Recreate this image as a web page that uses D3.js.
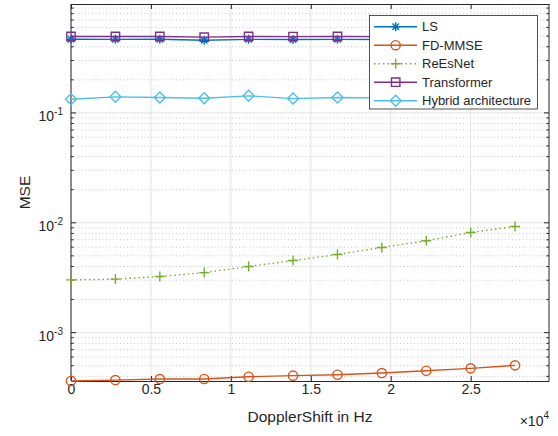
<!DOCTYPE html>
<html>
<head>
<meta charset="utf-8">
<script src="https://cdn.jsdelivr.net/npm/d3@7"></script>
<style>
  body { margin: 0; background: #ffffff; }
  text { font-family: "Liberation Sans", Arial, sans-serif; fill: #262626; }
</style>
</head>
<body>
<div id="chart"></div>
<script>
let width = 558;
let height = 436;
let margin = { left: 71, right: 9, top: 4, bottom: 55 };

// values
let dopplerShift = [0, 2778, 5556, 8333, 11111, 13889, 16667, 19444, 22222, 25000, 27778];
let lsMse = [0.468, 0.467, 0.468, 0.459, 0.467, 0.466, 0.467, 0.466, 0.466, 0.467, 0.466];
let fdMmseMse = [3.63e-4, 3.70e-4, 3.78e-4, 3.79e-4, 3.97e-4, 4.06e-4, 4.14e-4, 4.29e-4, 4.50e-4, 4.73e-4, 5.04e-4];
let reEsNetMse = [3.02e-3, 3.07e-3, 3.24e-3, 3.52e-3, 4.00e-3, 4.53e-3, 5.14e-3, 5.96e-3, 6.86e-3, 8.16e-3, 9.25e-3];
let transformerMse = [0.496, 0.496, 0.496, 0.489, 0.496, 0.495, 0.496, 0.495, 0.495, 0.496, 0.495];
let hybridMse = [0.133, 0.140, 0.138, 0.136, 0.143, 0.135, 0.138, 0.137, 0.137, 0.138, 0.136];

let xTicks = [0, 5000, 10000, 15000, 20000, 25000];
let xTickLabels = ["0", "0.5", "1", "1.5", "2", "2.5"];
let yTicks = [1e-3, 1e-2, 1e-1];
let yTickExponents = ["-3", "-2", "-1"];

let series = [
  { name: "LS", values: lsMse, color: "#0072BD", marker: "star", dash: null },
  { name: "FD-MMSE", values: fdMmseMse, color: "#D95319", marker: "circle", dash: null },
  { name: "ReEsNet", values: reEsNetMse, color: "#77AC30", marker: "plus", dash: "1.5,3" },
  { name: "Transformer", values: transformerMse, color: "#7E2F8E", marker: "square", dash: null },
  { name: "Hybrid architecture", values: hybridMse, color: "#4DBEEE", marker: "diamond", dash: null }
];

let svg = d3.select("#chart")
  .append("svg")
  .attr("width", width)
  .attr("height", height);

let x = d3.scaleLinear()
  .domain([0, 29900])
  .range([margin.left, width - margin.right]);
let y = d3.scaleLog()
  .domain([3.63e-4, 0.98])
  .range([height - margin.bottom, margin.top]);

let x0 = x.range()[0], x1 = x.range()[1];
let y0 = y.range()[0], y1 = y.range()[1];

// minor log ticks between decades
let minorTicks = [];
[1e-4, 1e-3, 1e-2, 1e-1].forEach(dec => {
  for (let k = 2; k <= 9; k++) {
    let v = dec * k;
    if (v > y.domain()[0] && v < y.domain()[1]) minorTicks.push(v);
  }
});

// grid
let grid = svg.append("g").attr("id", "grid");
grid.selectAll(".ymin")
  .data(minorTicks)
  .enter()
  .append("line")
  .attr("x1", x0).attr("x2", x1)
  .attr("y1", d => y(d)).attr("y2", d => y(d))
  .attr("stroke", "#b8b8b8")
  .attr("stroke-width", 0.8)
  .attr("stroke-dasharray", "1,2.5");
grid.selectAll(".ymaj")
  .data(yTicks)
  .enter()
  .append("line")
  .attr("x1", x0).attr("x2", x1)
  .attr("y1", d => y(d)).attr("y2", d => y(d))
  .attr("stroke", "#e1e1e1")
  .attr("stroke-width", 1);
grid.selectAll(".xmaj")
  .data(xTicks)
  .enter()
  .append("line")
  .attr("x1", d => x(d)).attr("x2", d => x(d))
  .attr("y1", y0).attr("y2", y1)
  .attr("stroke", "#e1e1e1")
  .attr("stroke-width", 1);

// axes with inward ticks on all four sides
svg.append("g")
  .attr("transform", `translate(0, ${y0})`)
  .call(d3.axisBottom(x).tickValues(xTicks).tickSizeInner(-5).tickSizeOuter(0).tickFormat((d, i) => xTickLabels[i]))
  .call(g => g.select(".domain").attr("stroke", "#262626"))
  .call(g => g.selectAll(".tick line").attr("stroke", "#262626"))
  .call(g => g.selectAll(".tick text").attr("font-size", 14).attr("font-family", "Liberation Sans, Arial, sans-serif").attr("fill", "#262626"));

svg.append("g")
  .attr("transform", `translate(0, ${y1})`)
  .call(d3.axisTop(x).tickValues(xTicks).tickSizeInner(-5).tickSizeOuter(0).tickFormat(""))
  .call(g => g.select(".domain").attr("stroke", "#262626"))
  .call(g => g.selectAll(".tick line").attr("stroke", "#262626"));

[[x0, 1], [x1, -1]].forEach(([xp, dir]) => {
  let side = svg.append("g");
  side.append("line")
    .attr("x1", xp).attr("x2", xp).attr("y1", y0).attr("y2", y1)
    .attr("stroke", "#262626");
  side.selectAll(".maj")
    .data(yTicks)
    .enter()
    .append("line")
    .attr("x1", xp).attr("x2", xp + dir * 5)
    .attr("y1", d => y(d)).attr("y2", d => y(d))
    .attr("stroke", "#262626");
  side.selectAll(".min")
    .data(minorTicks)
    .enter()
    .append("line")
    .attr("x1", xp).attr("x2", xp + dir * 2.7)
    .attr("y1", d => y(d)).attr("y2", d => y(d))
    .attr("stroke", "#262626");
});

// y tick labels 10^n
let ylab = svg.append("g").selectAll("text")
  .data(yTicks)
  .enter()
  .append("text")
  .attr("x", 63)
  .attr("y", d => y(d) + 8)
  .attr("text-anchor", "end")
  .attr("font-size", 14);
ylab.append("tspan").text("10");
ylab.append("tspan")
  .attr("font-size", 10)
  .attr("dy", -6)
  .text((d, i) => yTickExponents[i]);

// axis labels
svg.append("text")
  .attr("x", (x0 + x1) / 2)
  .attr("y", 422)
  .attr("text-anchor", "middle")
  .attr("font-size", 15.5)
  .text("DopplerShift in Hz");

svg.append("text")
  .attr("transform", `translate(30, ${(y0 + y1) / 2}) rotate(-90)`)
  .attr("text-anchor", "middle")
  .attr("font-size", 15.5)
  .text("MSE");

let xexp = svg.append("text")
  .attr("x", 549)
  .attr("y", 426)
  .attr("text-anchor", "end")
  .attr("font-size", 14);
xexp.append("tspan").text("\u00d710");
xexp.append("tspan").attr("font-size", 10).attr("dy", -7).text("4");

// markers
function markerPath(type) {
  let p = d3.path();
  if (type === "star") {
    let r = 4.5, d = r * 0.72;
    p.moveTo(-r, 0); p.lineTo(r, 0);
    p.moveTo(0, -r); p.lineTo(0, r);
    p.moveTo(-d, -d); p.lineTo(d, d);
    p.moveTo(-d, d); p.lineTo(d, -d);
  } else if (type === "circle") {
    p.arc(0, 0, 4.6, 0, 2 * Math.PI);
    p.closePath();
  } else if (type === "plus") {
    let r = 5;
    p.moveTo(-r, 0); p.lineTo(r, 0);
    p.moveTo(0, -r); p.lineTo(0, r);
  } else if (type === "square") {
    p.rect(-4.2, -4.2, 8.4, 8.4);
  } else if (type === "diamond") {
    p.moveTo(0, -5.5); p.lineTo(5.5, 0); p.lineTo(0, 5.5); p.lineTo(-5.5, 0);
    p.closePath();
  }
  return p.toString();
}

let line = d3.line()
  .x((d, i) => x(dopplerShift[i]))
  .y(d => y(d));

let plots = svg.append("g").attr("id", "plots");
series.forEach(s => {
  let g = plots.append("g");
  g.append("path")
    .attr("d", line(s.values))
    .attr("fill", "none")
    .attr("stroke", s.color)
    .attr("stroke-width", 1.4)
    .attr("stroke-dasharray", s.dash);
  g.selectAll("path.mk")
    .data(s.values)
    .enter()
    .append("path")
    .attr("class", "mk")
    .attr("transform", (d, i) => `translate(${x(dopplerShift[i])}, ${y(d)})`)
    .attr("d", markerPath(s.marker))
    .attr("fill", "none")
    .attr("stroke", s.color)
    .attr("stroke-width", 1.4);
});

// legend
let legend = svg.append("g").attr("id", "legend");
legend.append("rect")
  .attr("x", 369.5).attr("y", 15.5)
  .attr("width", 168).attr("height", 93.5)
  .attr("fill", "#ffffff")
  .attr("stroke", "#262626")
  .attr("stroke-width", 0.8);

series.forEach((s, i) => {
  let ly = 26.7 + i * 18.5;
  legend.append("line")
    .attr("x1", 374).attr("x2", 417)
    .attr("y1", ly).attr("y2", ly)
    .attr("stroke", s.color)
    .attr("stroke-width", 1.4)
    .attr("stroke-dasharray", s.dash);
  legend.append("path")
    .attr("transform", `translate(395.7, ${ly})`)
    .attr("d", markerPath(s.marker))
    .attr("fill", "none")
    .attr("stroke", s.color)
    .attr("stroke-width", 1.4);
  legend.append("text")
    .attr("x", 422)
    .attr("y", ly)
    .attr("dy", "0.36em")
    .attr("font-size", 13)
    .text(s.name);
});
</script>
</body>
</html>
